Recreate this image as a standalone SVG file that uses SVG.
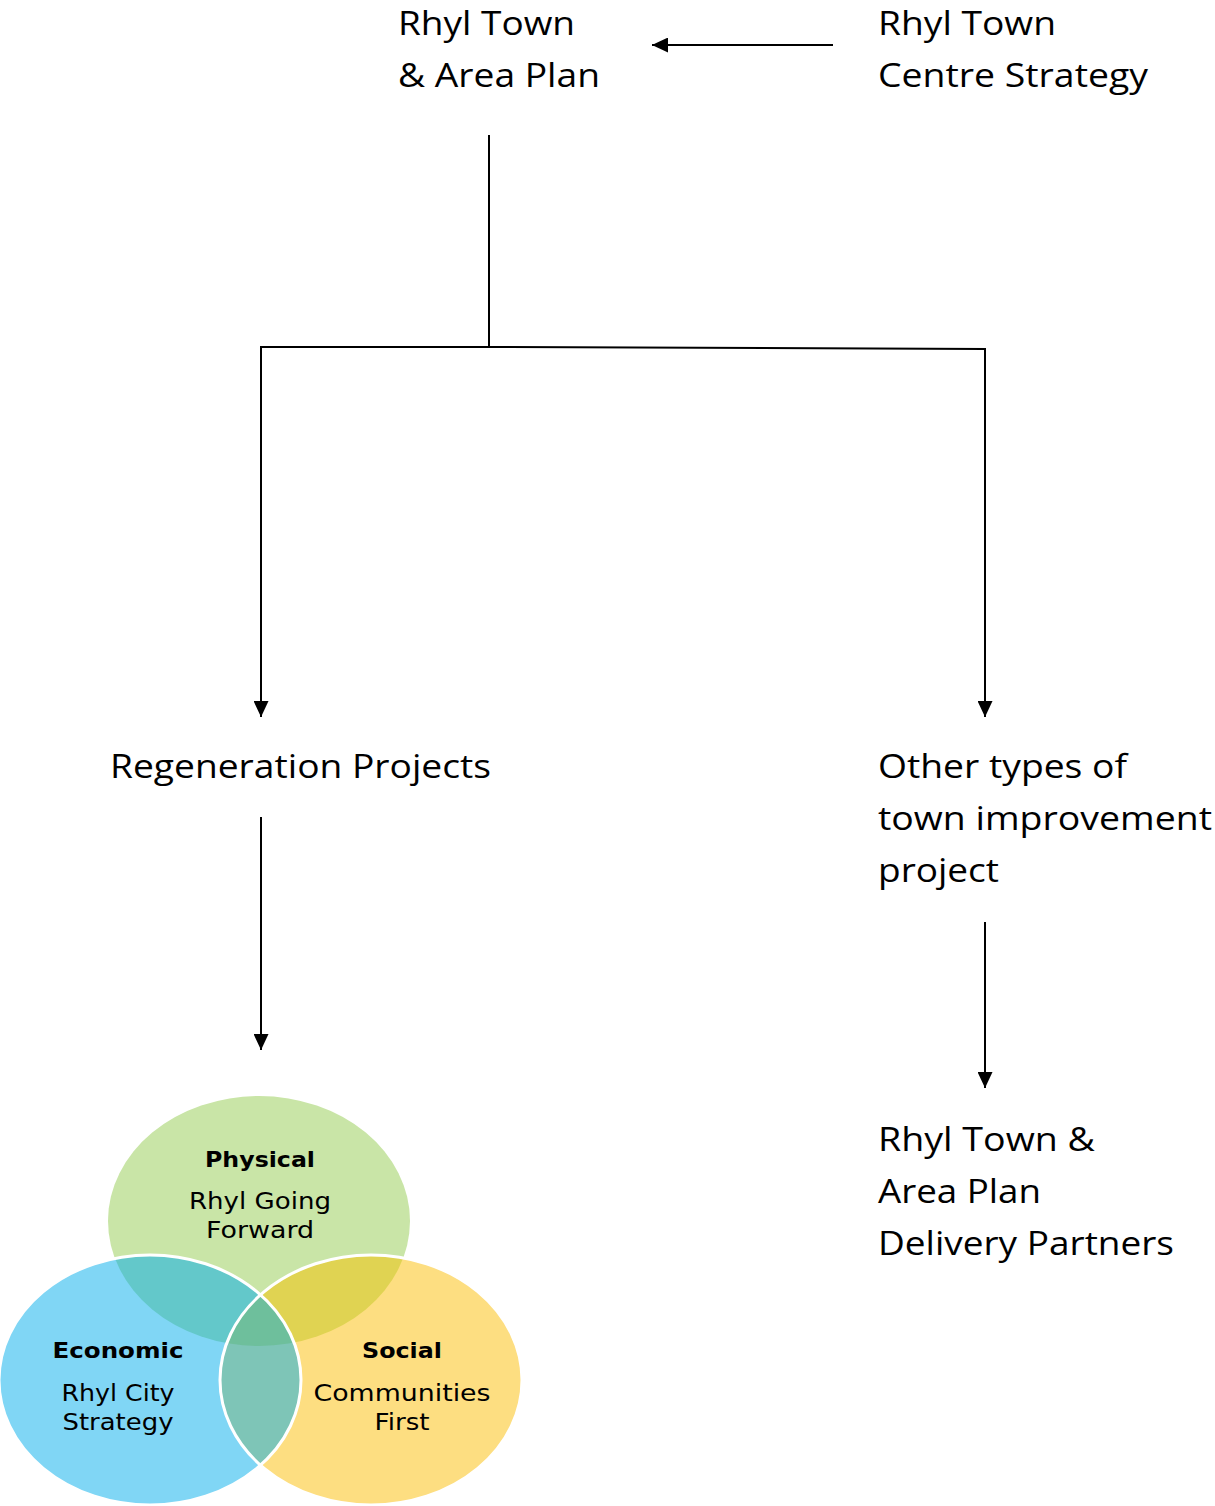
<svg xmlns="http://www.w3.org/2000/svg" width="1215" height="1506" viewBox="0 0 1215 1506">
<style>
.t{font-family:"Open Sans","Noto Sans","Liberation Sans",sans-serif;font-size:33px;fill:#000}
.vb{font-family:"DejaVu Sans","Liberation Sans",sans-serif;font-size:22px;font-weight:bold;fill:#000}
.vn{font-family:"DejaVu Sans","Liberation Sans",sans-serif;font-size:23px;fill:#000}
.c{fill:none;stroke:#000;stroke-width:2}
</style>
<defs>
<marker id="ah" viewBox="0 0 16 15" refX="16" refY="7.5" markerWidth="16" markerHeight="15" markerUnits="userSpaceOnUse" orient="auto">
<path d="M0,0 L16,7.5 L0,15 z" fill="#000"/>
</marker>
<ellipse id="eP" cx="259" cy="1221" rx="151" ry="125"/>
<ellipse id="eE" cx="150" cy="1380" rx="151" ry="125"/>
<ellipse id="eS" cx="371" cy="1380" rx="151" ry="125"/>
<clipPath id="cP"><use href="#eP"/></clipPath>
<clipPath id="cE"><use href="#eE"/></clipPath>
<clipPath id="cS"><use href="#eS"/></clipPath>
</defs>
<rect width="1215" height="1506" fill="#fff"/>

<g id="connectors">
<path class="c" d="M833,45 L652,45" marker-end="url(#ah)"/>
<path class="c" d="M489,135 V348"/>
<path class="c" d="M490,347 L261,347 V717" marker-end="url(#ah)"/>
<path class="c" d="M488,347 L985,349 V717" marker-end="url(#ah)"/>
<path class="c" d="M261,817 V1050" marker-end="url(#ah)"/>
<path class="c" d="M985,922 V1088" marker-end="url(#ah)"/>
</g>

<g id="rhyl-town-area-plan">
<text class="t" x="398" y="35" textLength="177" lengthAdjust="spacingAndGlyphs">Rhyl Town</text>
<text class="t" x="398" y="87" textLength="202" lengthAdjust="spacingAndGlyphs">&amp; Area Plan</text>
</g>
<g id="rhyl-town-centre-strategy">
<text class="t" x="878" y="35" textLength="178" lengthAdjust="spacingAndGlyphs">Rhyl Town</text>
<text class="t" x="878" y="87" textLength="270" lengthAdjust="spacingAndGlyphs">Centre Strategy</text>
</g>
<g id="regeneration-projects">
<text class="t" x="110" y="778" textLength="381" lengthAdjust="spacingAndGlyphs">Regeneration Projects</text>
</g>
<g id="other-types">
<text class="t" x="878" y="778" textLength="249" lengthAdjust="spacingAndGlyphs">Other types of</text>
<text class="t" x="878" y="830" textLength="334" lengthAdjust="spacingAndGlyphs">town improvement</text>
<text class="t" x="878" y="882" textLength="121" lengthAdjust="spacingAndGlyphs">project</text>
</g>
<g id="delivery-partners">
<text class="t" x="878" y="1151" textLength="217" lengthAdjust="spacingAndGlyphs">Rhyl Town &amp;</text>
<text class="t" x="878" y="1203" textLength="163" lengthAdjust="spacingAndGlyphs">Area Plan</text>
<text class="t" x="878" y="1255" textLength="296" lengthAdjust="spacingAndGlyphs">Delivery Partners</text>
</g>

<g id="venn">
<use href="#eP" fill="#C9E5A7"/>
<use href="#eE" fill="#80D6F5"/>
<use href="#eS" fill="#FDDE81"/>
<g clip-path="url(#cP)"><use href="#eE" fill="#63C8CA"/></g>
<g clip-path="url(#cP)"><use href="#eS" fill="#E0D352"/></g>
<g clip-path="url(#cE)"><use href="#eS" fill="#7EC5B7"/></g>
<g clip-path="url(#cP)"><g clip-path="url(#cE)"><use href="#eS" fill="#6EBF9C"/></g></g>
<use href="#eE" fill="none" stroke="#fff" stroke-width="3"/>
<use href="#eS" fill="none" stroke="#fff" stroke-width="3"/>
</g>
<g id="physical">
<text class="vb" x="260" y="1167" text-anchor="middle" textLength="110" lengthAdjust="spacingAndGlyphs">Physical</text>
<text class="vn" x="260" y="1209" text-anchor="middle" textLength="142" lengthAdjust="spacingAndGlyphs">Rhyl Going</text>
<text class="vn" x="260" y="1238" text-anchor="middle" textLength="108" lengthAdjust="spacingAndGlyphs">Forward</text>
</g>
<g id="economic">
<text class="vb" x="118" y="1358" text-anchor="middle" textLength="131" lengthAdjust="spacingAndGlyphs">Economic</text>
<text class="vn" x="118" y="1401" text-anchor="middle" textLength="113" lengthAdjust="spacingAndGlyphs">Rhyl City</text>
<text class="vn" x="118" y="1430" text-anchor="middle" textLength="111" lengthAdjust="spacingAndGlyphs">Strategy</text>
</g>
<g id="social">
<text class="vb" x="402" y="1358" text-anchor="middle" textLength="80" lengthAdjust="spacingAndGlyphs">Social</text>
<text class="vn" x="402" y="1401" text-anchor="middle" textLength="177" lengthAdjust="spacingAndGlyphs">Communities</text>
<text class="vn" x="402" y="1430" text-anchor="middle" textLength="55" lengthAdjust="spacingAndGlyphs">First</text>
</g>
</svg>
